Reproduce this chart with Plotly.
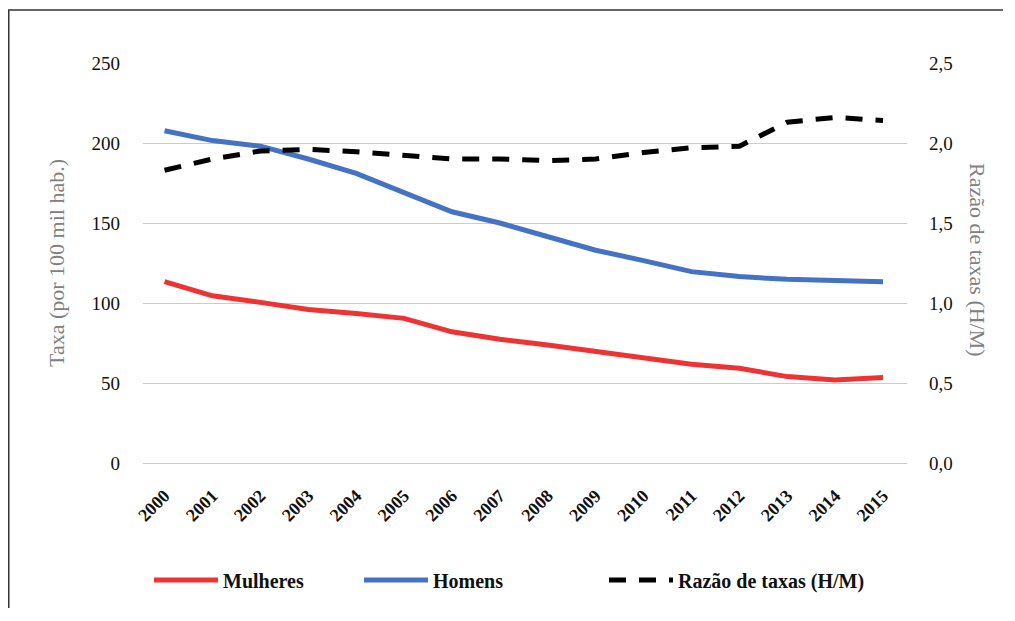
import plotly.graph_objects as go

anos = [str(a) for a in range(2000, 2016)]
mulheres = [113.3, 104.5, 100.4, 96.0, 93.5, 90.4, 82.0, 77.3, 73.8, 69.6, 66.0, 61.7, 59.2, 54.0, 51.9, 53.5]
homens = [207.7, 201.5, 198.0, 190.0, 181.0, 169.0, 157.0, 150.0, 141.5, 133.0, 126.5, 119.6, 116.5, 114.8, 114.0, 113.3]
razao = [1.83, 1.90, 1.95, 1.96, 1.946, 1.92, 1.90, 1.90, 1.89, 1.90, 1.94, 1.97, 1.98, 2.13, 2.16, 2.14]

FONT = "Liberation Serif"

fig = go.Figure()
fig.add_trace(go.Scatter(x=anos, y=mulheres, name="Mulheres", mode="lines",
                         line=dict(color="#EE3332", width=5), legend="legend2"))
fig.add_trace(go.Scatter(x=anos, y=homens, name="Homens", mode="lines",
                         line=dict(color="#4472C4", width=5), legend="legend3"))
fig.add_trace(go.Scatter(x=anos, y=razao, name="Razão de taxas (H/M)", mode="lines",
                         line=dict(color="#000000", width=5, dash="17px,13px"),
                         yaxis="y2", legend="legend4"))

# page body has an 8px margin: figure kept a little smaller than the window so the page does not scroll
W, H = 995, 600
OFF = 8
L, R, T, B = 135, 96, 55, 145
pw, ph = W - L - R, H - T - B

def px_x(p):  # screenshot x -> paper
    return (p - OFF - L) / pw

def px_y(p):  # screenshot y -> paper
    return (H - B - (p - OFF)) / ph

leg_common = dict(orientation="h", font=dict(family=FONT, size=20, color="#111111", weight="bold"),
                  bgcolor="rgba(0,0,0,0)", borderwidth=0, itemwidth=64,
                  yanchor="middle", xanchor="left", visible=True)

border = dict(color="#333333", width=1.5)

fig.update_layout(
    width=W, height=H,
    margin=dict(l=L, r=R, t=T, b=B, autoexpand=False),
    paper_bgcolor="white", plot_bgcolor="white",
    separators=",.",
    showlegend=True,
    font=dict(family=FONT, size=19, color="#111111"),
    xaxis=dict(type="category", range=[-0.45, 15.5], showgrid=False,
               showline=True, linecolor="#cccccc", linewidth=1.2,
               tickangle=-45, ticklabelstandoff=14,
               tickfont=dict(family=FONT, size=18, color="#111111", weight="bold")),
    yaxis=dict(range=[0, 250], dtick=50, showgrid=True, gridcolor="#cccccc", gridwidth=1.2,
               zeroline=False, ticklabelstandoff=22,
               tickfont=dict(family=FONT, size=19, color="#111111"),
               title=dict(text="Taxa (por 100 mil hab.)", standoff=20,
                          font=dict(family=FONT, size=22, color="#808080"))),
    yaxis2=dict(range=[0, 2.5], dtick=0.5, tickformat=".1f", overlaying="y", side="right",
                showgrid=False, zeroline=False, ticklabelstandoff=21,
                tickfont=dict(family=FONT, size=19, color="#111111")),
    legend=dict(visible=False),
    legend2=dict(x=px_x(149), y=px_y(580), **leg_common),
    legend3=dict(x=px_x(359), y=px_y(580), **leg_common),
    legend4=dict(x=px_x(604), y=px_y(580), **leg_common),
    annotations=[dict(text="Razão de taxas (H/M)", xref="paper", yref="paper",
                      x=px_x(978), y=px_y(260), textangle=90, showarrow=False,
                      xanchor="center", yanchor="middle",
                      font=dict(family=FONT, size=22, color="#808080"))],
    shapes=[
        dict(type="line", xref="paper", yref="paper",
             x0=px_x(8.75), x1=px_x(8.75), y0=px_y(H + OFF), y1=px_y(10), line=border, layer="below"),
        dict(type="line", xref="paper", yref="paper",
             x0=px_x(8), x1=px_x(W + OFF), y0=px_y(10), y1=px_y(10), line=border, layer="below"),
    ],
)

fig.write_html("out.html")
